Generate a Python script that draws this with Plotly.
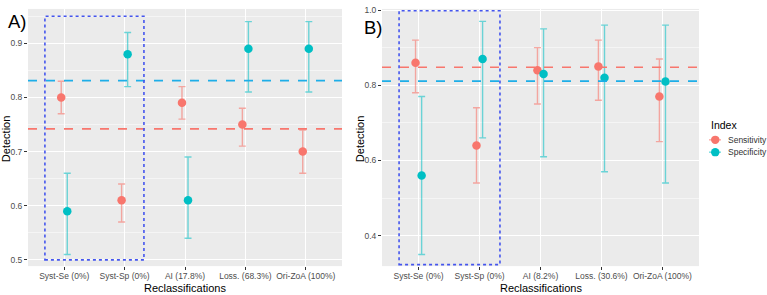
import plotly.graph_objects as go

# ---------------- data ----------------
cats_a = ["Syst-Se (0%)", "Syst-Sp (0%)", "AI (17.8%)", "Loss. (68.3%)", "Ori-ZoA (100%)"]
cats_b = ["Syst-Se (0%)", "Syst-Sp (0%)", "AI (8.2%)", "Loss. (30.6%)", "Ori-ZoA (100%)"]

sens_a = [0.80, 0.61, 0.79, 0.75, 0.70]
sens_a_lo = [0.77, 0.57, 0.76, 0.71, 0.66]
sens_a_hi = [0.83, 0.64, 0.82, 0.78, 0.74]
spec_a = [0.59, 0.88, 0.61, 0.89, 0.89]
spec_a_lo = [0.51, 0.82, 0.54, 0.81, 0.81]
spec_a_hi = [0.66, 0.92, 0.69, 0.94, 0.94]

sens_b = [0.86, 0.64, 0.84, 0.85, 0.77]
sens_b_lo = [0.78, 0.54, 0.75, 0.76, 0.65]
sens_b_hi = [0.92, 0.74, 0.90, 0.92, 0.87]
spec_b = [0.56, 0.87, 0.83, 0.82, 0.81]
spec_b_lo = [0.35, 0.66, 0.61, 0.57, 0.54]
spec_b_hi = [0.77, 0.97, 0.95, 0.96, 0.96]

mean_sens_a, mean_spec_a = 0.742, 0.831
mean_sens_b, mean_spec_b = 0.848, 0.811

# ---------------- styling ----------------
W, H = 767, 295
RED = "#F8766D"
TEAL = "#00BFC4"
RED_BAR = "rgba(248,118,109,0.6)"
TEAL_BAR = "rgba(0,191,196,0.55)"
RED_LINE = "#F8766D"
BLUE_LINE = "#1EAEE8"
RECT = "#4455EE"
FONT = "Liberation Sans, Arial, sans-serif"
DODGE = 0.05

def px(x):
    return x / W

def py(y):
    return 1 - y / H

fig = go.Figure()

def add_panel(cats, sens, slo, shi, spec, plo, phi, xa, ya):
    n = len(cats)
    xs = [i - DODGE for i in range(n)]
    xp = [i + DODGE for i in range(n)]
    fig.add_trace(go.Scatter(
        x=xs, y=sens, mode="markers", name="Sensitivity", showlegend=False,
        marker=dict(color=RED, size=8.5),
        error_y=dict(type="data", array=[h - v for h, v in zip(shi, sens)],
                     arrayminus=[v - l for l, v in zip(slo, sens)],
                     color=RED_BAR, thickness=1.4, width=3.5),
        xaxis=xa, yaxis=ya))
    fig.add_trace(go.Scatter(
        x=xp, y=spec, mode="markers", name="Specificity", showlegend=False,
        marker=dict(color=TEAL, size=8.5),
        error_y=dict(type="data", array=[h - v for h, v in zip(phi, spec)],
                     arrayminus=[v - l for l, v in zip(plo, spec)],
                     color=TEAL_BAR, thickness=1.4, width=3.5),
        xaxis=xa, yaxis=ya))

add_panel(cats_a, sens_a, sens_a_lo, sens_a_hi, spec_a, spec_a_lo, spec_a_hi, "x", "y")
add_panel(cats_b, sens_b, sens_b_lo, sens_b_hi, spec_b, spec_b_lo, spec_b_hi, "x2", "y2")

tickfont = dict(family=FONT, size=8.5, color="#4D4D4D")
ydom = [py(265.7), py(5)]

common_x = dict(range=[-0.6, 4.6], tickmode="array", tickvals=list(range(5)),
                showgrid=True, gridcolor="white", gridwidth=1.1, zeroline=False,
                ticks="outside", ticklen=3, tickcolor="#333333", tickwidth=1,
                tickfont=tickfont, showline=False, ticklabelstandoff=-1)
common_y = dict(showgrid=True, gridcolor="white", gridwidth=1.1, zeroline=False,
                ticks="outside", ticklen=3, tickcolor="#333333", tickwidth=1,
                tickfont=tickfont, showline=False)

fig.update_layout(
    width=W, height=H, margin=dict(l=0, r=0, t=0, b=0),
    paper_bgcolor="white", plot_bgcolor="#EBEBEB", showlegend=False,
    font=dict(family=FONT),
    xaxis=dict(domain=[px(28), px(342)], ticktext=cats_a, anchor="y", **common_x),
    xaxis2=dict(domain=[px(382), px(699)], ticktext=cats_b, anchor="y2", **common_x),
    yaxis=dict(domain=ydom, range=[0.4885, 0.9635], tickvals=[0.5, 0.6, 0.7, 0.8, 0.9],
               ticktext=["0.5", "0.6", "0.7", "0.8", "0.9"], anchor="x",
               minor=dict(tickvals=[0.55, 0.65, 0.75, 0.85, 0.95], showgrid=True,
                          gridcolor="#F5F5F5", gridwidth=0.6, ticks=""),
               **common_y),
    yaxis2=dict(domain=ydom, range=[0.319, 1.003], tickvals=[0.4, 0.6, 0.8, 1.0],
                ticktext=["0.4", "0.6", "0.8", "1.0"], anchor="x2",
                minor=dict(tickvals=[0.5, 0.7, 0.9], showgrid=True,
                           gridcolor="#F5F5F5", gridwidth=0.6, ticks=""),
                **common_y),
)

shapes = []
for xr, yr, ms, mp in [("x", "y", mean_sens_a, mean_spec_a), ("x2", "y2", mean_sens_b, mean_spec_b)]:
    shapes.append(dict(type="line", xref=f"{xr} domain", yref=yr, x0=0, x1=1, y0=ms, y1=ms,
                       line=dict(color=RED_LINE, width=1.6, dash="dash"), layer="above"))
    shapes.append(dict(type="line", xref=f"{xr} domain", yref=yr, x0=0, x1=1, y0=mp, y1=mp,
                       line=dict(color=BLUE_LINE, width=1.6, dash="dash"), layer="above"))

# highlighted systematic-reclassification boxes
shapes.append(dict(type="rect", xref="x", yref="y", x0=-0.32, x1=1.32, y0=0.5, y1=0.95,
                   line=dict(color=RECT, width=1.6, dash="dot"), layer="above"))
shapes.append(dict(type="rect", xref="x2", yref="y2", x0=-0.32, x1=1.335, y0=0.323, y1=0.998,
                   line=dict(color=RECT, width=1.6, dash="dot"), layer="above"))

# legend keys (manual, ggplot style)
for yy, col, bar in [(137.7, RED, RED_BAR), (150.2, TEAL, TEAL_BAR)]:
    shapes.append(dict(type="line", xref="paper", yref="paper", x0=px(709), x1=px(721),
                       y0=py(yy), y1=py(yy), line=dict(color=bar, width=1.4)))
    shapes.append(dict(type="circle", xref="paper", yref="paper", x0=px(711), x1=px(719.5),
                       y0=py(yy + 4.25), y1=py(yy - 4.25), fillcolor=col, line=dict(width=0)))
fig.update_layout(shapes=shapes)

ann = []
title_font = dict(family=FONT, size=11, color="black")
ann.append(dict(text="Reclassifications", x=px(185), y=py(287.5), xref="paper", yref="paper",
                showarrow=False, font=title_font, xanchor="center", yanchor="middle"))
ann.append(dict(text="Reclassifications", x=px(540.5), y=py(287.5), xref="paper", yref="paper",
                showarrow=False, font=title_font, xanchor="center", yanchor="middle"))
ann.append(dict(text="Detection", x=px(6), y=py(137), xref="paper", yref="paper", textangle=-90,
                showarrow=False, font=title_font, xanchor="center", yanchor="middle"))
ann.append(dict(text="Detection", x=px(360), y=py(137), xref="paper", yref="paper", textangle=-90,
                showarrow=False, font=title_font, xanchor="center", yanchor="middle"))
ann.append(dict(text="A)", x=px(17), y=py(17.5), xref="paper", yref="paper",
                showarrow=False, font=dict(family=FONT, size=18.5, color="black"),
                xanchor="center", yanchor="middle"))
ann.append(dict(text="B)", x=px(373), y=py(23.5), xref="paper", yref="paper",
                showarrow=False, font=dict(family=FONT, size=18.5, color="black"),
                xanchor="center", yanchor="middle"))
ann.append(dict(text="Index", x=px(709), y=py(123), xref="paper", yref="paper",
                showarrow=False, font=dict(family=FONT, size=10.5, color="black"),
                xanchor="left", yanchor="middle"))
ann.append(dict(text="Sensitivity", x=px(726), y=py(138), xref="paper", yref="paper",
                showarrow=False, font=dict(family=FONT, size=8.5, color="#333333"),
                xanchor="left", yanchor="middle"))
ann.append(dict(text="Specificity", x=px(726), y=py(150.5), xref="paper", yref="paper",
                showarrow=False, font=dict(family=FONT, size=8.5, color="#333333"),
                xanchor="left", yanchor="middle"))
fig.update_layout(annotations=ann)

fig.write_html("out.html")
